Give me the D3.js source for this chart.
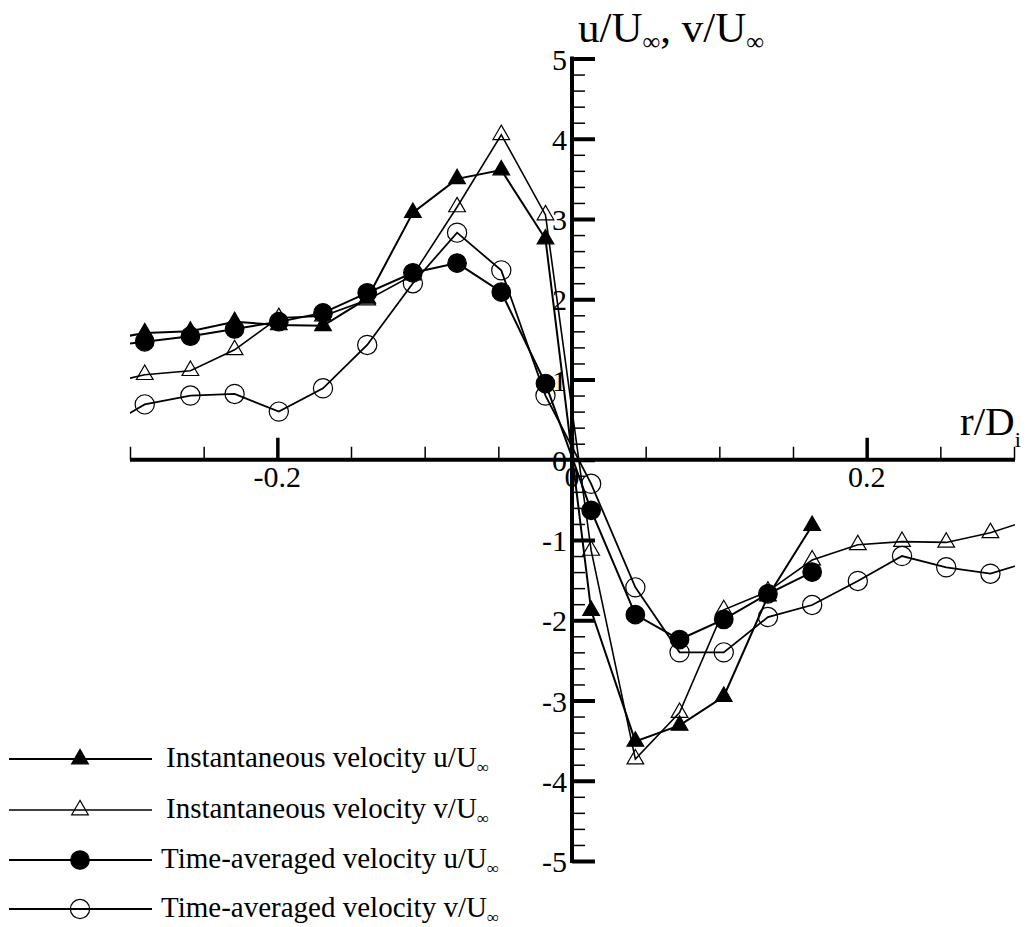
<!DOCTYPE html>
<html lang="en"><head><meta charset="utf-8">
<title>Velocity profiles</title>
<script src="https://cdn.jsdelivr.net/npm/d3@7/dist/d3.min.js"></script>
<style>
body { margin: 0; background: #fff; }
text { font-family: "Liberation Serif", "Times New Roman", serif; fill: #000; }
</style>
</head>
<body>
<script>
// radial positions r/Di (first and last points fall outside the plotted range and get clipped)
var rPos = [-0.320, -0.290, -0.259, -0.229, -0.199, -0.169, -0.139, -0.108, -0.078, -0.048, -0.018,
            0.013, 0.043, 0.073, 0.103, 0.133, 0.163, 0.194, 0.224, 0.254, 0.284, 0.314];

var instU = [1.48, 1.58, 1.60, 1.72, 1.68, 1.67, 2.01, 3.08, 3.50, 3.61, 2.75, -1.88, -3.51, -3.31, -2.95, -1.70, -0.82];
var instV = [0.93, 1.06, 1.11, 1.37, 1.77, 1.79, 1.99, 2.30, 3.15, 4.05, 3.05, -1.13, -3.73, -3.15, -1.87, -1.64,
             -1.25, -1.06, -1.02, -1.03, -0.91, -0.73];
var avgU  = [1.41, 1.47, 1.54, 1.63, 1.72, 1.83, 2.08, 2.33, 2.45, 2.09, 0.95, -0.63, -1.93, -2.24, -1.99, -1.67, -1.40];
var avgV  = [0.37, 0.69, 0.80, 0.82, 0.60, 0.89, 1.43, 2.20, 2.83, 2.36, 0.80, -0.30, -1.59, -2.40, -2.40, -1.96,
             -1.81, -1.51, -1.20, -1.34, -1.42, -1.25];

var seriesNames = ["Instantaneous velocity u/U", "Instantaneous velocity v/U",
                   "Time-averaged velocity u/U", "Time-averaged velocity v/U"];
var xMajor = [-0.2, 0, 0.2];
var xMajorLabels = ["-0.2", "0", "0.2"];
var xMinor = [-0.3, -0.25, -0.15, -0.1, -0.05, 0.05, 0.1, 0.15, 0.25, 0.3];
var yMajor = [-5, -4, -3, -2, -1, 0, 1, 2, 3, 4, 5];

var width = 1028, height = 927;
var serif = "'Liberation Serif', 'Times New Roman', serif";

var svg = d3.select("body").append("svg")
    .attr("width", width)
    .attr("height", height)
    .attr("font-family", serif);

var x = d3.scaleLinear().domain([-0.3, 0.3]).range([130, 1014]);
var y = d3.scaleLinear().domain([-5, 5]).range([861, 58.5]);

var series = [
  {name: seriesNames[0], values: instU, shape: d3.symbolTriangle, size: 120, filled: true,  lw: 2},
  {name: seriesNames[1], values: instV, shape: d3.symbolTriangle, size: 120, filled: false, lw: 1.6},
  {name: seriesNames[2], values: avgU,  shape: d3.symbolCircle,   size: 270, filled: true,  lw: 2},
  {name: seriesNames[3], values: avgV,  shape: d3.symbolCircle,   size: 290, filled: false, lw: 1.8}
];

// ---- axes ----
var xMinorAxis = d3.axisTop(x).tickValues(xMinor).tickSize(13).tickFormat("");
var xMajorAxis = d3.axisTop(x).tickValues(xMajor).tickSize(22).tickFormat("");
var yMinorAxis = d3.axisRight(y).tickValues(d3.range(-50, 51, 2).map(function(d){ return d / 10; })
                   .filter(function(d){ return Math.abs(d % 1) > 0.01; }))
                   .tickSize(13).tickFormat("");
var yMajorAxis = d3.axisRight(y).tickValues(yMajor).tickSize(23).tickFormat("");

svg.append("g").attr("transform", "translate(0," + y(0) + ")").call(xMinorAxis)
  .call(function(g){ g.select(".domain").remove(); g.selectAll("line").attr("stroke-width", 1.5); });
svg.append("g").attr("transform", "translate(0," + y(0) + ")").call(xMajorAxis)
  .call(function(g){ g.select(".domain").remove(); g.selectAll("line").attr("stroke-width", 3.5); });
svg.append("line")
    .attr("x1", x(-0.3)).attr("x2", x(0.3) + 1)
    .attr("y1", y(0)).attr("y2", y(0))
    .attr("stroke", "#000").attr("stroke-width", 4);

svg.append("g").attr("transform", "translate(" + x(0) + ",0)").call(yMinorAxis)
  .call(function(g){ g.select(".domain").remove(); g.selectAll("line").attr("stroke-width", 1.5); });
svg.append("g").attr("transform", "translate(" + x(0) + ",0)").call(yMajorAxis)
  .call(function(g){ g.select(".domain").remove(); g.selectAll("line").attr("stroke-width", 4); });
svg.append("line")
    .attr("x1", x(0)).attr("x2", x(0))
    .attr("y1", y(5) - 2).attr("y2", y(-5) + 2)
    .attr("stroke", "#000").attr("stroke-width", 4);

// tick labels
svg.selectAll(".xlab").data(xMajor).enter().append("text")
    .attr("class", "xlab")
    .attr("x", function(d){ return x(d); })
    .attr("y", 487)
    .attr("text-anchor", "middle")
    .attr("font-family", serif)
    .attr("font-size", 30)
    .text(function(d, i){ return xMajorLabels[i]; });

svg.selectAll(".ylab").data(yMajor).enter().append("text")
    .attr("class", "ylab")
    .attr("x", x(0) - 5)
    .attr("y", function(d){ return y(d) + 11; })
    .attr("text-anchor", "end")
    .attr("font-family", serif)
    .attr("font-size", 30)
    .text(function(d){ return String(d); });

// axis titles
var xt = svg.append("text").attr("x", 960).attr("y", 435).attr("font-size", 41);
xt.append("tspan").text("r/D");
xt.append("tspan").attr("font-size", 22).attr("dy", 12).text("i");

var yt = svg.append("text").attr("x", 578).attr("y", 42).attr("font-size", 43);
yt.append("tspan").text("u/U");
yt.append("tspan").attr("font-size", 25).attr("dy", 8).text("\u221e");
yt.append("tspan").attr("dy", -8).text(", v/U");
yt.append("tspan").attr("font-size", 25).attr("dy", 8).text("\u221e");

// ---- data ----
svg.append("clipPath").attr("id", "plotClip")
  .append("rect").attr("x", x(-0.3)).attr("y", 0).attr("width", x(0.3) - x(-0.3) + 1).attr("height", height);

var plot = svg.append("g").attr("clip-path", "url(#plotClip)");

var line = d3.line()
    .x(function(d){ return x(d[0]); })
    .y(function(d){ return y(d[1]); });

series.forEach(function(s){
  s.points = s.values.map(function(v, i){ return [rPos[i], v]; });
  plot.append("path")
      .datum(s.points)
      .attr("fill", "none")
      .attr("stroke", "#000")
      .attr("stroke-width", s.lw)
      .attr("d", line);
});

series.forEach(function(s){
  plot.selectAll(null).data(s.points).enter().append("path")
      .attr("transform", function(d){ return "translate(" + x(d[0]) + "," + y(d[1]) + ")"; })
      .attr("d", d3.symbol().type(s.shape).size(s.size))
      .attr("fill", s.filled ? "#000" : "none")
      .attr("stroke", "#000")
      .attr("stroke-width", 1.2);
});

// ---- legend ----
var legendRows = [759, 810, 860, 909];
var legendTextX = [166, 166, 161, 161];

series.forEach(function(s, i){
  var g = svg.append("g").attr("transform", "translate(0," + legendRows[i] + ")");
  g.append("line").attr("x1", 9).attr("x2", 152).attr("y1", 0).attr("y2", 0)
      .attr("stroke", "#000").attr("stroke-width", s.lw);
  g.append("path").attr("transform", "translate(80,0)")
      .attr("d", d3.symbol().type(s.shape).size(s.size))
      .attr("fill", s.filled ? "#000" : "none")
      .attr("stroke", "#000").attr("stroke-width", 1.2);
  var t = g.append("text").attr("x", legendTextX[i]).attr("y", 8).attr("font-size", 29);
  t.append("tspan").text(s.name);
  t.append("tspan").attr("font-size", 17).attr("dy", 6).text("\u221e");
});
</script>
</body></html>
